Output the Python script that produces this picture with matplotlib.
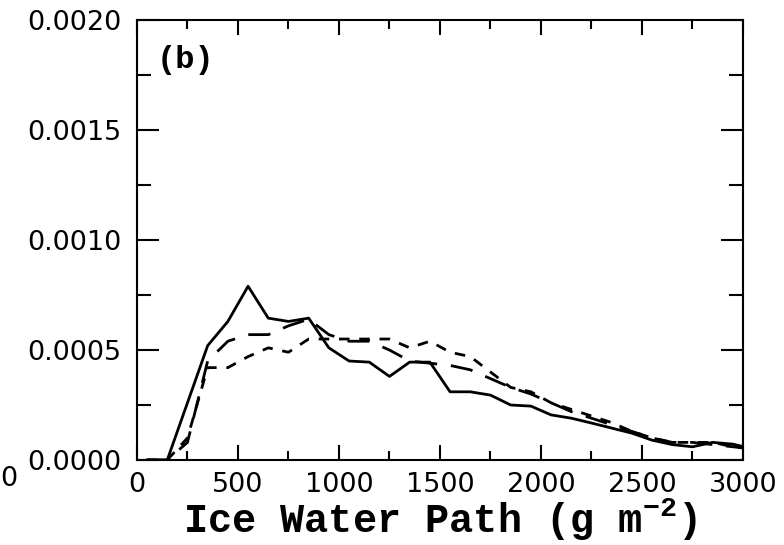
import matplotlib.pyplot as plt
from matplotlib.ticker import MultipleLocator, FormatStrFormatter

# bin centres of ice water path (g m-2)
iwp = [50, 150, 250, 350, 450, 550, 650, 750, 850, 950,
       1050, 1150, 1250, 1350, 1450, 1550, 1650, 1750, 1850, 1950,
       2050, 2150, 2250, 2350, 2450, 2550, 2650, 2750, 2850, 2950, 3050]

pdfSolid = [0.0, 0.0, 0.00026, 0.00052, 0.00063, 0.00079, 0.000645, 0.00063, 0.000645, 0.00051,
            0.00045, 0.000445, 0.00038, 0.000445, 0.000445, 0.00031, 0.00031, 0.000295, 0.00025, 0.000245,
            0.000205, 0.00019, 0.000168, 0.000145, 0.000122, 0.00009, 0.00007, 0.00006, 0.00008, 0.000072, 0.00005]

pdfLongDash = [0.0, 0.0, 0.00008, 0.00045, 0.00054, 0.00057, 0.00057, 0.00061, 0.00064, 0.00057,
               0.00054, 0.00054, 0.0005, 0.00045, 0.00044, 0.00043, 0.00041, 0.00037, 0.00033, 0.0003,
               0.00026, 0.00022, 0.00019, 0.00016, 0.00013, 0.0001, 0.00008, 0.00008, 0.00007, 0.00006, 0.00005]

pdfShortDash = [0.0, 0.0, 0.0001, 0.00042, 0.00042, 0.00047, 0.00051, 0.00049, 0.00055, 0.00055,
                0.00055, 0.00055, 0.00055, 0.00051, 0.00054, 0.00049, 0.00047, 0.0004, 0.00033, 0.00031,
                0.00026, 0.00023, 0.0002, 0.00017, 0.00013, 0.0001, 0.00008, 0.00008, 0.00008, 0.00006, 0.00005]

tickFont = {"family": "DejaVu Sans", "size": 19.5}
labelFont = {"family": "Liberation Mono", "weight": "bold"}

plt.rcParams["mathtext.fontset"] = "custom"
plt.rcParams["mathtext.bf"] = "Liberation Mono:bold"
plt.rcParams["mathtext.rm"] = "Liberation Mono:bold"

fig = plt.figure(figsize=(7.84, 5.45), dpi=100)
ax = fig.add_axes([0.1747, 0.156, 0.773, 0.807])

ax.plot(iwp, pdfSolid, color="black", lw=2)
ax.plot(iwp, pdfLongDash, color="black", lw=2, dashes=(8, 5))
ax.plot(iwp, pdfShortDash, color="black", lw=2, dashes=(3.8, 3.5))

ax.set_xlim(0, 3000)
ax.set_ylim(0, 0.002)

ax.xaxis.set_major_locator(MultipleLocator(500))
ax.xaxis.set_minor_locator(MultipleLocator(250))
ax.yaxis.set_major_locator(MultipleLocator(0.0005))
ax.yaxis.set_minor_locator(MultipleLocator(0.00025))
ax.yaxis.set_major_formatter(FormatStrFormatter("%.4f"))

for s in ax.spines.values():
	s.set_linewidth(1.5)

ax.tick_params(axis="x", which="major", direction="in", length=10.5, width=1.5, top=True, pad=9)
ax.tick_params(axis="x", which="minor", direction="in", length=6.5, width=1.5, top=True)
ax.tick_params(axis="y", which="major", direction="in", length=15.5, width=1.5, right=True, pad=11)
ax.tick_params(axis="y", which="minor", direction="in", length=10, width=1.5, right=True)

for lab in ax.get_xticklabels() + ax.get_yticklabels():
	lab.set_fontfamily(tickFont["family"])
	lab.set_fontsize(tickFont["size"])

ax.set_xlabel("Ice Water Path (g m$^{-2}$)", fontsize=29, va="center", **labelFont)
ax.xaxis.set_label_coords(0.5, -0.135)
ax.text(0.033, 0.91, "(b)", transform=ax.transAxes, fontsize=23, ha="left", va="center", **labelFont)

# trailing digit of the neighbouring panel's axis
fig.text(0.0, 0.122, "0", ha="left", va="center", **tickFont)

plt.savefig("out.png", dpi=100)
